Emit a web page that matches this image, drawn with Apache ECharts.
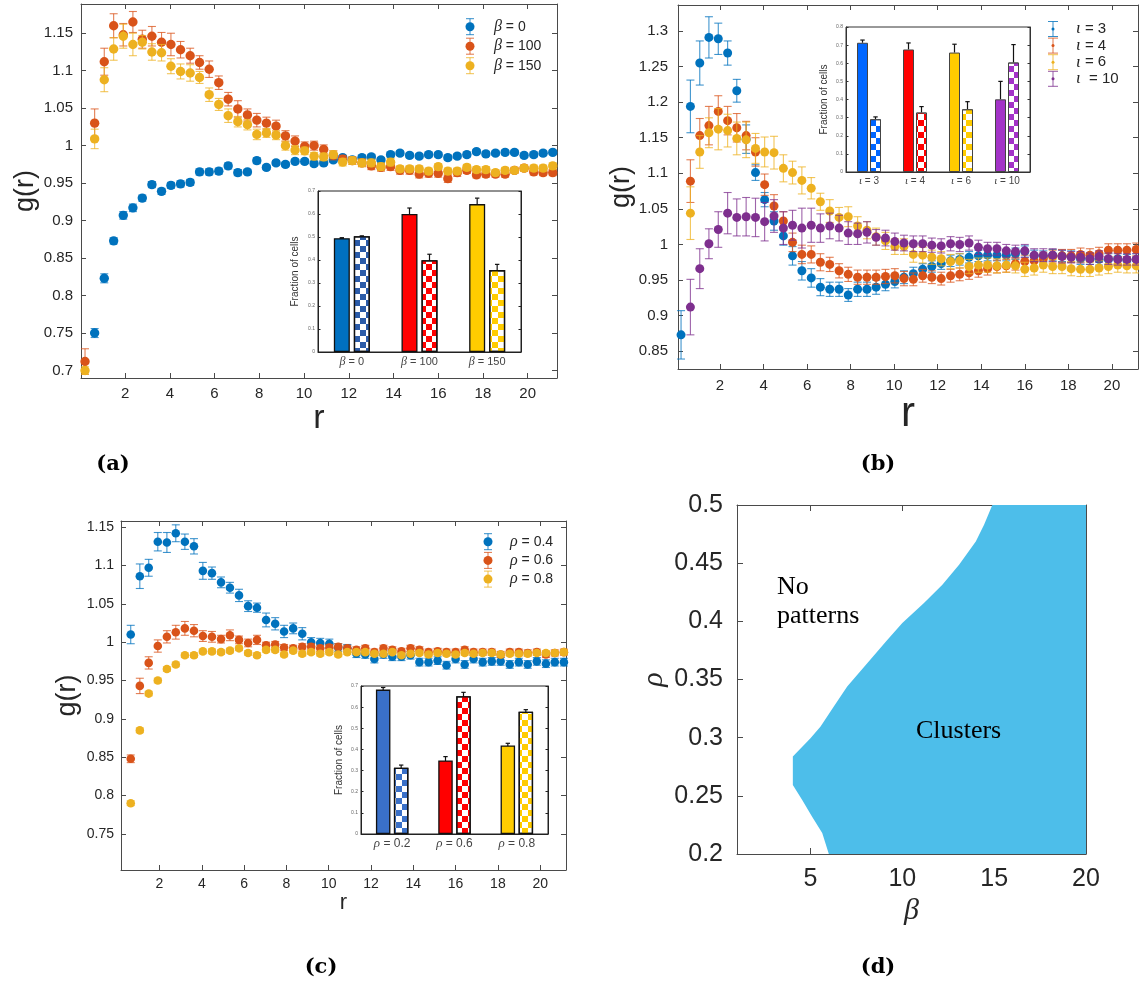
<!DOCTYPE html>
<html><head><meta charset="utf-8">
<script src="https://cdn.jsdelivr.net/npm/echarts@6/dist/echarts.min.js"></script>
<style>html,body{margin:0;padding:0;background:#fff}#c{width:1139px;height:990px}</style>
</head><body><div id="c"></div>
<script>
// ---------------- DATA ----------------
const rGrid = [0.21,0.64,1.07,1.49,1.92,2.35,2.77,3.2,3.63,4.05,4.48,4.91,5.33,5.76,6.19,6.61,7.04,7.47,7.89,8.32,8.75,9.17,9.6,10.03,10.45,10.88,11.31,11.73,12.16,12.59,13.01,13.44,13.87,14.29,14.72,15.15,15.57,16.0,16.43,16.85,17.28,17.71,18.13,18.56,18.99,19.41,19.84,20.27,20.69,21.12];

// panel (a)
const aLegend = ['β = 0','β = 100','β = 150'];
const aBeta0 = [null,0.750,0.823,0.873,0.907,0.917,0.930,0.948,0.939,0.947,
 0.949,0.951,0.965,0.965,0.966,0.973,0.964,0.965,0.980,0.971,
 0.977,0.975,0.979,0.979,0.976,0.977,0.981,0.984,0.981,0.984,
 0.985,0.981,0.988,0.990,0.987,0.986,0.988,0.988,0.984,0.986,
 0.988,0.992,0.989,0.990,0.991,0.991,0.987,0.988,0.990,0.991];
const aBeta0Err = [0.004,0.006,0.006,0.004,0.005,0.005,0.004,0.004,0.004,0.004,
 0.004,0.004,0.004,0.004,0.004,0.004,0.004,0.003,0.004,0.003,
 0.003,0.003,0.003,0.003,0.003,0.003,0.003,0.003,0.003,0.003,
 0.003,0.003,0.003,0.003,0.003,0.003,0.003,0.003,0.003,0.003,
 0.003,0.003,0.003,0.003,0.003,0.003,0.003,0.003,0.003,0.003];
const aBeta100 = [0.712,1.030,1.112,1.160,1.148,1.165,1.142,1.146,1.138,1.135,
 1.128,1.120,1.111,1.102,1.084,1.062,1.049,1.041,1.034,1.030,
 1.026,1.013,1.006,0.999,1.000,0.995,0.987,0.982,0.980,0.977,
 0.973,0.971,0.972,0.967,0.967,0.962,0.963,0.963,0.956,0.964,
 0.967,0.961,0.962,0.962,0.962,0.967,0.970,0.965,0.964,0.964];
const aBeta100Err = [0.017,0.019,0.018,0.016,0.015,0.014,0.012,0.013,0.013,0.015,
 0.011,0.010,0.009,0.011,0.009,0.009,0.011,0.008,0.009,0.008,
 0.008,0.007,0.007,0.006,0.006,0.006,0.006,0.005,0.005,0.005,
 0.005,0.005,0.005,0.005,0.005,0.005,0.005,0.005,0.005,0.005,
 0.004,0.004,0.004,0.004,0.004,0.004,0.004,0.004,0.004,0.004];
const aBeta150 = [0.700,1.009,1.088,1.129,1.146,1.135,1.138,1.125,1.124,1.106,
 1.099,1.097,1.091,1.068,1.055,1.040,1.032,1.028,1.015,1.017,
 1.014,1.000,0.994,0.993,0.986,0.985,0.988,0.978,0.980,0.977,
 0.977,0.972,0.978,0.969,0.969,0.969,0.966,0.972,0.966,0.966,
 0.971,0.968,0.968,0.964,0.967,0.967,0.970,0.970,0.970,0.973];
const aBeta150Err = [0.005,0.013,0.016,0.015,0.016,0.015,0.009,0.011,0.011,0.010,
 0.010,0.011,0.008,0.009,0.008,0.009,0.007,0.007,0.007,0.006,
 0.006,0.006,0.006,0.005,0.005,0.005,0.005,0.005,0.005,0.005,
 0.005,0.005,0.005,0.004,0.004,0.004,0.004,0.004,0.004,0.004,
 0.004,0.004,0.004,0.004,0.004,0.004,0.004,0.004,0.004,0.004];
const aXTicks = [2,4,6,8,10,12,14,16,18,20];
const aYTicks = [0.7,0.75,0.8,0.85,0.9,0.95,1,1.05,1.1,1.15];
// inset (a)
const insetACats = ['β = 0','β = 100','β = 150'];
const insetASolid = [0.495,0.600,0.643];
const insetASolidErr = [0.002,0.026,0.026];
const insetAChecker = [0.503,0.399,0.356];
const insetACheckerErr = [0.002,0.026,0.025];
const insetYTicks7 = [0,0.1,0.2,0.3,0.4,0.5,0.6,0.7];

// panel (b)
const bLegend = ['ι = 3','ι = 4','ι = 6','ι  = 10'];
const bIota3 = [0.873,1.194,1.255,1.291,1.289,1.269,1.216,1.148,1.101,1.063,
 1.033,1.012,0.984,0.963,0.953,0.940,0.937,0.937,0.929,0.937,
 0.937,0.940,0.944,0.948,0.954,0.959,0.965,0.969,0.973,0.977,
 0.979,0.982,0.984,0.985,0.985,0.985,0.987,0.990,0.984,0.983,
 0.985,0.984,0.983,0.980,0.980,0.979,0.979,0.980,0.978,0.979];
const bIota3Err = [0.034,0.037,0.031,0.029,0.022,0.017,0.016,0.020,0.011,0.010,
 0.013,0.013,0.013,0.013,0.013,0.012,0.010,0.010,0.009,0.010,
 0.010,0.010,0.009,0.009,0.009,0.009,0.008,0.008,0.008,0.008,
 0.008,0.008,0.008,0.008,0.008,0.008,0.008,0.008,0.008,0.008,
 0.008,0.008,0.008,0.008,0.008,0.008,0.008,0.008,0.008,0.008];
const bIota4 = [null,1.089,1.153,1.167,1.187,1.174,1.164,1.153,1.130,1.084,
 1.054,1.033,1.003,0.986,0.986,0.975,0.972,0.963,0.958,0.954,
 0.954,0.954,0.955,0.956,0.952,0.951,0.956,0.954,0.952,0.956,
 0.958,0.960,0.963,0.966,0.969,0.970,0.973,0.976,0.977,0.980,
 0.983,0.984,0.984,0.986,0.985,0.987,0.992,0.992,0.992,0.993];
const bIota4Err = [0,0.030,0.024,0.027,0.022,0.020,0.020,0.020,0.020,0.015,
 0.016,0.013,0.013,0.013,0.012,0.012,0.010,0.010,0.010,0.010,
 0.010,0.010,0.010,0.010,0.010,0.009,0.009,0.009,0.009,0.009,
 0.009,0.009,0.009,0.009,0.009,0.009,0.009,0.009,0.009,0.009,
 0.009,0.009,0.009,0.009,0.009,0.009,0.009,0.009,0.009,0.009];
const bIota6 = [null,1.044,1.130,1.157,1.162,1.160,1.149,1.147,1.135,1.130,
 1.129,1.107,1.101,1.090,1.079,1.060,1.047,1.038,1.039,1.026,
 1.020,1.011,1.005,0.997,0.997,0.986,0.985,0.982,0.980,0.976,
 0.977,0.969,0.971,0.971,0.970,0.971,0.970,0.965,0.967,0.971,
 0.969,0.969,0.966,0.965,0.965,0.967,0.969,0.971,0.970,0.970];
const bIota6Err = [0,0.037,0.023,0.021,0.029,0.023,0.023,0.025,0.021,0.021,
 0.023,0.019,0.016,0.019,0.015,0.012,0.016,0.014,0.014,0.013,
 0.012,0.012,0.012,0.011,0.011,0.011,0.011,0.010,0.010,0.010,
 0.010,0.010,0.010,0.010,0.010,0.010,0.010,0.010,0.010,0.010,
 0.010,0.010,0.010,0.010,0.010,0.010,0.010,0.010,0.010,0.010];
const bIota10 = [null,0.912,0.966,1.001,1.021,1.044,1.038,1.039,1.038,1.032,
 1.040,1.023,1.027,1.023,1.027,1.023,1.026,1.023,1.016,1.015,
 1.017,1.010,1.009,1.004,1.002,1.001,1.001,0.999,0.998,1.001,
 1.000,1.002,0.996,0.994,0.994,0.991,0.990,0.991,0.985,0.985,
 0.985,0.983,0.982,0.982,0.980,0.983,0.980,0.979,0.979,0.979];
const bIota10Err = [0,0.039,0.028,0.021,0.025,0.029,0.026,0.027,0.027,0.027,
 0.023,0.023,0.021,0.028,0.024,0.020,0.018,0.018,0.016,0.015,
 0.015,0.011,0.011,0.012,0.011,0.011,0.011,0.010,0.010,0.010,
 0.010,0.010,0.010,0.009,0.009,0.009,0.009,0.009,0.009,0.009,
 0.009,0.009,0.008,0.008,0.008,0.008,0.008,0.008,0.008,0.008];
const bXTicks = [2,4,6,8,10,12,14,16,18,20];
const bYTicks = [0.85,0.9,0.95,1,1.05,1.1,1.15,1.2,1.25,1.3];
// inset (b)
const insetBCats = ['ι = 3','ι = 4','ι = 6','ι = 10'];
const insetBSolid = [0.713,0.676,0.659,0.401];
const insetBSolidErr = [0.015,0.036,0.046,0.099];
const insetBChecker = [0.291,0.328,0.346,0.604];
const insetBCheckerErr = [0.013,0.033,0.042,0.099];
const insetYTicks8 = [0,0.1,0.2,0.3,0.4,0.5,0.6,0.7,0.8];

// panel (c)
const cLegend = ['ρ = 0.4','ρ = 0.6','ρ = 0.8'];
const cRho04 = [null,1.010,1.086,1.097,1.131,1.130,1.142,1.131,1.125,1.093,
 1.090,1.078,1.071,1.061,1.047,1.045,1.029,1.024,1.014,1.018,
 1.011,1.000,0.999,0.998,0.993,0.992,0.985,0.984,0.978,0.984,
 0.981,0.981,0.983,0.974,0.974,0.976,0.970,0.978,0.971,0.978,
 0.974,0.975,0.975,0.971,0.974,0.971,0.975,0.972,0.974,0.974];
const cRho04Err = [0,0.012,0.016,0.011,0.012,0.013,0.011,0.010,0.010,0.011,
 0.008,0.007,0.007,0.008,0.007,0.006,0.009,0.008,0.008,0.007,
 0.008,0.006,0.006,0.006,0.005,0.005,0.005,0.005,0.005,0.005,
 0.005,0.005,0.005,0.005,0.005,0.005,0.005,0.005,0.005,0.005,
 0.005,0.005,0.005,0.005,0.005,0.005,0.005,0.005,0.005,0.005];
const cRho06 = [null,0.848,0.943,0.973,0.995,1.007,1.013,1.018,1.015,1.008,
 1.007,1.004,1.009,1.003,0.999,1.003,0.996,0.997,0.993,0.992,
 0.994,0.994,0.992,0.993,0.994,0.992,0.990,0.992,0.987,0.992,
 0.990,0.988,0.992,0.990,0.987,0.988,0.987,0.987,0.990,0.987,
 0.987,0.987,0.984,0.987,0.987,0.986,0.987,0.984,0.986,0.987];
const cRho06Err = [0,0.005,0.010,0.008,0.008,0.008,0.009,0.009,0.008,0.007,
 0.007,0.005,0.007,0.005,0.005,0.006,0.004,0.004,0.004,0.004,
 0.004,0.004,0.004,0.004,0.004,0.004,0.004,0.004,0.004,0.004,
 0.004,0.004,0.004,0.004,0.004,0.004,0.004,0.004,0.004,0.004,
 0.004,0.004,0.004,0.004,0.004,0.004,0.004,0.004,0.004,0.004];
const cRho08 = [null,0.790,0.885,0.933,0.950,0.965,0.971,0.983,0.983,0.988,
 0.988,0.987,0.989,0.992,0.986,0.983,0.990,0.990,0.984,0.989,
 0.985,0.987,0.985,0.987,0.984,0.987,0.987,0.987,0.985,0.985,
 0.987,0.983,0.985,0.986,0.984,0.986,0.985,0.984,0.986,0.985,
 0.986,0.986,0.984,0.985,0.985,0.985,0.986,0.986,0.986,0.987];
const cRho08Err = [0,0.003,0.003,0.003,0.003,0.003,0.003,0.003,0.003,0.003,
 0.003,0.003,0.003,0.003,0.003,0.003,0.003,0.003,0.003,0.003,
 0.003,0.003,0.003,0.003,0.003,0.003,0.003,0.003,0.003,0.003,
 0.003,0.003,0.003,0.003,0.003,0.003,0.003,0.003,0.003,0.003,
 0.003,0.003,0.003,0.003,0.003,0.003,0.003,0.003,0.003,0.003];
const cXTicks = [2,4,6,8,10,12,14,16,18,20];
const cYTicks = [0.75,0.8,0.85,0.9,0.95,1,1.05,1.1,1.15];
// inset (c)
const insetCCats = ['ρ = 0.2','ρ = 0.6','ρ = 0.8'];
const insetCSolid = [0.683,0.348,0.419];
const insetCSolidErr = [0.010,0.018,0.010];
const insetCChecker = [0.313,0.652,0.578];
const insetCCheckerErr = [0.013,0.018,0.010];

// panel (d): phase boundary (beta, rho), closed along the right edge
const dBeta = [6.0,5.64,5.09,4.55,4.04,4.04,5.0,5.55,6.27,7.0,8.09,9.18,10.0,11.18,12.18,13.09,14.0,14.45,14.9,20,20];
const dRho  = [0.2,0.218,0.232,0.2465,0.2594,0.2838,0.2995,0.3096,0.3268,0.344,0.364,0.384,0.3985,0.4157,0.4315,0.4487,0.4687,0.483,0.5,0.5,0.2];
const dXTicks = [5,10,15,20];
const dYTicks = [0.2,0.25,0.3,0.35,0.4,0.45,0.5];

// ---------------- STYLE ----------------
const SANS = '"Liberation Sans", Arial, Helvetica, sans-serif';
const SERIF = '"Liberation Serif", "Times New Roman", serif';
const AX = '#4a4a4a', TXT = '#262626';
const C_BLUE = '#0072BD', C_ORANGE = '#D95319', C_YELLOW = '#EDB120', C_PURPLE = '#7E2F8E';
const CHK = 6;

const grid = [], xAxis = [], yAxis = [], series = [], graphic = [];
const fmt = v => String(Math.round(v * 10000) / 10000);
const greek = s => '{g|' + s[0] + '}' + s.slice(1);

function addMain(g, c) {
  const gi = grid.push(g) - 1;
  const base = {type: 'value', gridIndex: gi, splitLine: {show: false},
    axisLine: {show: true, onZero: false, lineStyle: {color: AX, width: c.lw || 1}}};
  const tick = vals => ({show: true, inside: true, length: c.tickLen || 5, customValues: vals, lineStyle: {color: AX, width: c.lw || 1}});
  const xi = xAxis.length;
  xAxis.push(Object.assign({}, base, {position: 'bottom', min: c.xMin, max: c.xMax, axisTick: tick(c.xTicks),
    axisLabel: {show: true, customValues: c.xTicks, formatter: fmt, color: TXT, fontSize: c.fs, margin: c.xMargin, fontFamily: SANS},
    name: c.xName, nameLocation: 'middle', nameGap: c.xNameGap,
    nameTextStyle: Object.assign({fontSize: c.xNameSize, color: TXT, fontFamily: SANS}, c.xNameStyle || {})}));
  xAxis.push(Object.assign({}, base, {position: 'top', min: c.xMin, max: c.xMax, axisTick: tick(c.xTicks), axisLabel: {show: false}}));
  const yi = yAxis.length;
  yAxis.push(Object.assign({}, base, {position: 'left', min: c.yMin, max: c.yMax, axisTick: tick(c.yTicks),
    axisLabel: {show: true, customValues: c.yTicks, formatter: fmt, color: TXT, fontSize: c.fs, margin: c.yMargin, fontFamily: SANS},
    name: c.yName, nameLocation: 'middle', nameGap: c.yNameGap,
    nameTextStyle: Object.assign({fontSize: c.yNameSize, color: TXT, fontFamily: SANS}, c.yNameStyle || {})}));
  yAxis.push(Object.assign({}, base, {position: 'right', min: c.yMin, max: c.yMax, axisTick: tick(c.yTicks), axisLabel: {show: false}}));
  return {x: xi, y: yi};
}

function markerRender(color, rad, cap) {
  return function (params, api) {
    const x = api.value(0), y = api.value(1), e = api.value(2);
    const c = api.coord([x, y]), t = api.coord([x, y + e]), b = api.coord([x, y - e]);
    const ls = {stroke: color, lineWidth: 1.1, opacity: 0.75};
    return {type: 'group', children: [
      {type: 'line', shape: {x1: c[0], y1: t[1], x2: c[0], y2: b[1]}, style: ls},
      {type: 'line', shape: {x1: c[0] - cap, y1: t[1], x2: c[0] + cap, y2: t[1]}, style: ls},
      {type: 'line', shape: {x1: c[0] - cap, y1: b[1], x2: c[0] + cap, y2: b[1]}, style: ls},
      {type: 'circle', shape: {cx: c[0], cy: c[1], r: rad}, style: {fill: color}}
    ]};
  };
}
function addErr(ax, vals, errs, color, rad, cap) {
  const data = [];
  rGrid.forEach((r, i) => { if (vals[i] != null) data.push([r, vals[i], errs[i]]); });
  series.push({type: 'custom', xAxisIndex: ax.x, yAxisIndex: ax.y, data, encode: {x: 0, y: 1},
    clip: false, renderItem: markerRender(color, rad, cap)});
}

function addInset(g, c) {
  const gi = grid.push(Object.assign({show: true, backgroundColor: '#fff', borderColor: c.box, borderWidth: 1}, g)) - 1;
  const xi = xAxis.length, yi = yAxis.length;
  xAxis.push({type: 'category', gridIndex: gi, data: c.cats, position: 'bottom',
    axisLine: {show: true, onZero: false, lineStyle: {color: c.box, width: 1}}, axisTick: {show: false},
    axisLabel: {show: true, interval: 0, margin: c.catMargin, color: '#444', fontSize: c.catSize, fontFamily: SANS,
      formatter: greek, rich: {g: {fontStyle: 'italic', fontFamily: SERIF, fontSize: c.catSize + 1, color: '#444'}}}});
  const yt = {show: true, inside: true, length: 2.5, customValues: c.yTicks, lineStyle: {color: c.box}};
  yAxis.push({type: 'value', gridIndex: gi, min: 0, max: c.yMax, position: 'left', splitLine: {show: false},
    axisLine: {show: true, lineStyle: {color: c.box}}, axisTick: yt,
    axisLabel: {show: true, customValues: c.yTicks, formatter: fmt, fontSize: 5, color: '#666', margin: 3, fontFamily: SANS},
    name: 'Fraction of cells', nameLocation: 'middle', nameGap: c.nameGap,
    nameTextStyle: {fontSize: c.nameSize, color: '#333', fontFamily: SANS}});
  yAxis.push({type: 'value', gridIndex: gi, min: 0, max: c.yMax, position: 'right', splitLine: {show: false},
    axisLine: {show: true, lineStyle: {color: c.box}}, axisTick: yt, axisLabel: {show: false}});
  const gapPct = (c.gap / c.barW * 100) + '%';
  const bl = {borderColor: c.border, borderWidth: c.borderW};
  const errSeries = (vals, errs, off) => ({type: 'custom', xAxisIndex: xi, yAxisIndex: yi,
    data: vals.map((v, i) => [i, v, errs[i]]),
    renderItem: function (params, api) {
      const ci = api.value(0), v = api.value(1), e = api.value(2);
      const t = api.coord([ci, v + e]), b = api.coord([ci, c.upperOnly ? v : v - e]);
      const x = t[0] + off, cp = 2.2, st = {stroke: '#111', lineWidth: 1.2};
      const kids = [{type: 'line', shape: {x1: x, y1: t[1], x2: x, y2: b[1]}, style: st},
        {type: 'line', shape: {x1: x - cp, y1: t[1], x2: x + cp, y2: t[1]}, style: st}];
      if (!c.upperOnly) kids.push({type: 'line', shape: {x1: x - cp, y1: b[1], x2: x + cp, y2: b[1]}, style: st});
      return {type: 'group', children: kids};
    }});
  const off = (c.barW + c.gap) / 2;
  if (c.upperOnly) { series.push(errSeries(c.solid, c.solidErr, -off)); series.push(errSeries(c.checker, c.checkerErr, off)); }
  series.push({type: 'bar', xAxisIndex: xi, yAxisIndex: yi, barWidth: c.barW, barGap: gapPct,
    data: c.solid.map((v, i) => ({value: v, itemStyle: Object.assign({color: c.solidColors[i]}, bl)}))});
  series.push({type: 'bar', xAxisIndex: xi, yAxisIndex: yi, barWidth: c.barW, barGap: gapPct,
    data: c.checker.map((v, i) => ({value: v, itemStyle: Object.assign({color: '#fff', decal: {
      symbol: 'rect', symbolSize: 1, color: c.checkerColors[i],
      dashArrayX: [[CHK, CHK], [0, CHK, CHK, 0]], dashArrayY: [CHK, 0]}}, bl)}))});
  if (!c.upperOnly) { series.push(errSeries(c.solid, c.solidErr, -off)); series.push(errSeries(c.checker, c.checkerErr, off)); }
}

function legend(x0, y0, dy, tx, labels, colors, kind, fs) {
  labels.forEach((lab, i) => {
    const y = y0 + i * dy, col = colors[i];
    const h = kind === 'dot' ? 7.5 : 8, cp = kind === 'dot' ? 5 : 4;
    const ls = {stroke: col, lineWidth: 1, opacity: 0.8};
    graphic.push({type: 'line', shape: {x1: x0, y1: y - h, x2: x0, y2: y + h}, style: ls});
    graphic.push({type: 'line', shape: {x1: x0 - cp, y1: y - h, x2: x0 + cp, y2: y - h}, style: ls});
    graphic.push({type: 'line', shape: {x1: x0 - cp, y1: y + h, x2: x0 + cp, y2: y + h}, style: ls});
    graphic.push({type: 'circle', shape: {cx: x0, cy: y, r: kind === 'dot' ? 1.5 : 4.5}, style: {fill: col}});
    graphic.push({type: 'text', x: tx, y: y, style: {text: greek(lab), fontSize: fs, fontFamily: SANS, fill: TXT,
      align: 'left', verticalAlign: 'middle',
      rich: {g: {fontStyle: 'italic', fontFamily: SERIF, fontSize: fs + 2, fill: TXT}}}});
  });
}

// ---------------- PANEL (a) ----------------
const axA = addMain({left: 81, top: 4, width: 476, height: 374},
  {xMin: 0.03, xMax: 21.31, yMin: 0.69, yMax: 1.189, xTicks: aXTicks, yTicks: aYTicks, fs: 15,
   xMargin: 8, yMargin: 8, xName: 'r', xNameGap: 20, xNameSize: 34, yName: 'g(r)', yNameGap: 42, yNameSize: 27});
addErr(axA, aBeta0, aBeta0Err, C_BLUE, 4.7, 4);
addErr(axA, aBeta100, aBeta100Err, C_ORANGE, 4.7, 4);
addErr(axA, aBeta150, aBeta150Err, C_YELLOW, 4.7, 4);
legend(470, 26.7, 19.5, 494, aLegend, [C_BLUE, C_ORANGE, C_YELLOW], 'circle', 14);
addInset({left: 318, top: 191, width: 203, height: 161},
  {cats: insetACats, solid: insetASolid, solidErr: insetASolidErr, checker: insetAChecker, checkerErr: insetACheckerErr,
   solidColors: ['#0070C0', '#FF0000', '#FFCC00'], checkerColors: ['#2B5BA8', '#FF0000', '#FFCC00'],
   barW: 16, gap: 4, yMax: 0.7, yTicks: insetYTicks7, box: '#222', border: '#111', borderW: 1.3,
   catSize: 11, catMargin: 4, nameGap: 18, nameSize: 10});

// ---------------- PANEL (b) ----------------
const axB = addMain({left: 678, top: 5, width: 460, height: 364},
  {xMin: 0.07, xMax: 21.2, yMin: 0.825, yMax: 1.3365, xTicks: bXTicks, yTicks: bYTicks, fs: 15,
   xMargin: 9, yMargin: 10, xName: 'r', xNameGap: 17, xNameSize: 42, yName: 'g(r)', yNameGap: 38, yNameSize: 27});
addErr(axB, bIota3, bIota3Err, C_BLUE, 4.5, 4);
addErr(axB, bIota4, bIota4Err, C_ORANGE, 4.5, 4);
addErr(axB, bIota6, bIota6Err, C_YELLOW, 4.5, 4);
addErr(axB, bIota10, bIota10Err, C_PURPLE, 4.5, 4);
legend(1053, 29, 16.6, 1076, bLegend, [C_BLUE, C_ORANGE, C_YELLOW, C_PURPLE], 'dot', 15);
addInset({left: 846, top: 27, width: 184, height: 145},
  {cats: insetBCats, solid: insetBSolid, solidErr: insetBSolidErr, checker: insetBChecker, checkerErr: insetBCheckerErr,
   solidColors: ['#0066FF', '#FF0000', '#FFCC00', '#A333C8'], checkerColors: ['#0066FF', '#FF0000', '#FFCC00', '#A333C8'],
   barW: 11, gap: 2, yMax: 0.8, yTicks: insetYTicks8, box: '#333', border: '#444', borderW: 1, upperOnly: true,
   catSize: 10, catMargin: 4, nameGap: 17, nameSize: 10});

// ---------------- PANEL (c) ----------------
const axC = addMain({left: 121, top: 521, width: 445, height: 349},
  {xMin: 0.18, xMax: 21.22, yMin: 0.703, yMax: 1.158, xTicks: cXTicks, yTicks: cYTicks, fs: 14,
   xMargin: 7, yMargin: 7, xName: 'r', xNameGap: 22, xNameSize: 22, yName: 'g(r)', yNameGap: 40, yNameSize: 27});
addErr(axC, cRho04, cRho04Err, C_BLUE, 4.3, 4);
addErr(axC, cRho06, cRho06Err, C_ORANGE, 4.3, 4);
addErr(axC, cRho08, cRho08Err, C_YELLOW, 4.3, 4);
legend(488, 541.7, 18.7, 510, cLegend, [C_BLUE, C_ORANGE, C_YELLOW], 'circle', 14);
addInset({left: 361, top: 686, width: 187, height: 148},
  {cats: insetCCats, solid: insetCSolid, solidErr: insetCSolidErr, checker: insetCChecker, checkerErr: insetCCheckerErr,
   solidColors: ['#3A70C8', '#FF0000', '#FFCC00'], checkerColors: ['#3A70C8', '#FF0000', '#FFCC00'],
   barW: 14.5, gap: 3.5, yMax: 0.7, yTicks: insetYTicks7, box: '#222', border: '#111', borderW: 1.3,
   catSize: 12, catMargin: 3, nameGap: 17, nameSize: 10});

// ---------------- PANEL (d) ----------------
const axD = addMain({left: 737, top: 505, width: 349, height: 349},
  {xMin: 1, xMax: 20, yMin: 0.2, yMax: 0.5, xTicks: dXTicks, yTicks: dYTicks, fs: 25, tickLen: 6,
   xMargin: 13, yMargin: 14, xName: 'β', xNameGap: 42, xNameSize: 30,
   xNameStyle: {fontFamily: SERIF, fontStyle: 'italic'},
   yName: 'ρ', yNameGap: 68, yNameSize: 30, yNameStyle: {fontFamily: SERIF, fontStyle: 'italic'}});
series.push({type: 'custom', xAxisIndex: axD.x, yAxisIndex: axD.y, z: 1,
  data: dBeta.map((b, i) => [b, dRho[i]]), encode: {x: 0, y: 1},
  renderItem: function (params, api) {
    if (params.dataIndex !== 0) return null;
    const pts = dBeta.map((b, i) => api.coord([b, dRho[i]]));
    return {type: 'polygon', shape: {points: pts}, style: {fill: '#4DBEEA', stroke: null}};
  }});

// ---------------- TEXT ----------------
const txt = (x, y, s, font, extra) => graphic.push({type: 'text', x, y, z: 50,
  style: Object.assign({text: s, fill: '#000', align: 'left', verticalAlign: 'middle'}, font, extra || {})});
const serif26 = {fontFamily: SERIF, fontSize: 26};
txt(777, 587, 'No', serif26);
txt(777, 616, 'patterns', serif26);
txt(916, 731, 'Clusters', serif26);
const lbl = {fontFamily: '"DejaVu Serif", serif', fontWeight: 'bold', fontSize: 21};
txt(113, 465, '(a)', lbl, {align: 'center'});
txt(878, 465, '(b)', lbl, {align: 'center'});
txt(321, 968, '(c)', lbl, {align: 'center'});
txt(878, 968, '(d)', lbl, {align: 'center'});

const chart = echarts.init(document.getElementById('c'), null, {renderer: 'canvas'});
chart.setOption({animation: false, backgroundColor: '#fff', grid, xAxis, yAxis, series, graphic});
</script></body></html>
